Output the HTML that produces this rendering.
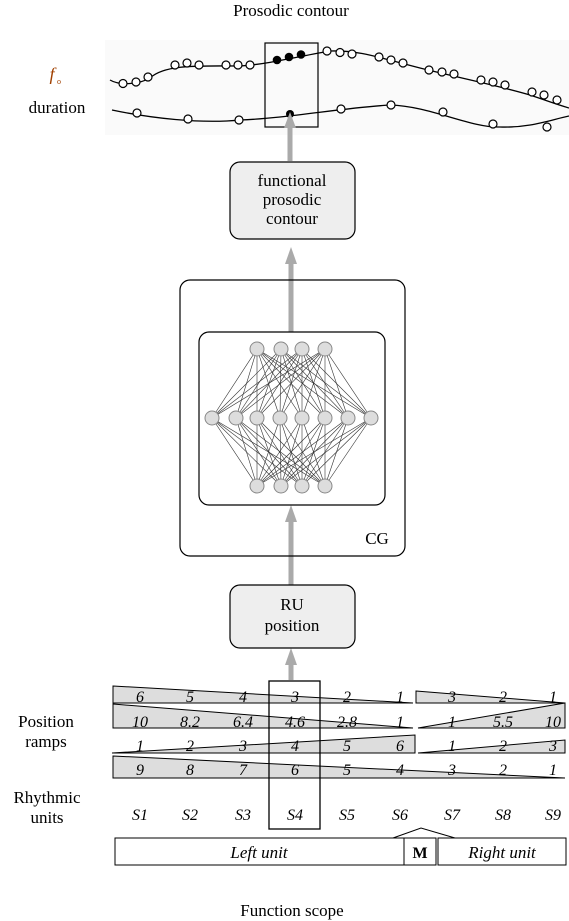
<!DOCTYPE html><html><head><style>body{margin:0;background:#fff}svg{display:block}text{font-family:"Liberation Serif",serif;fill:#000}</style></head><body>
<svg width="569" height="921" viewBox="0 0 569 921" xmlns="http://www.w3.org/2000/svg">
<text x="291" y="16" font-size="17" text-anchor="middle">Prosodic contour</text>
<text x="52" y="80" font-size="18" font-style="italic" text-anchor="middle" style="fill:#a04000">f</text><text x="57" y="84" font-size="8" style="fill:#a04000">o</text>
<text x="57" y="113" font-size="17" text-anchor="middle">duration</text>
<rect x="105" y="40" width="464" height="95" fill="#fafafa"/>
<path d="M110,80 C120,86 140,84 150,78 C165,64 200,66 240,66 C270,64 300,56 330,51 C360,50 380,58 420,68 C460,78 500,86 530,95 C545,100 555,104 569,108" fill="none" stroke="#000" stroke-width="1.3"/>
<path d="M112,110 C150,118 200,124 240,120 C290,118 340,108 390,105 C430,106 470,128 500,127 C530,128 550,120 569,116" fill="none" stroke="#000" stroke-width="1.3"/>
<g fill="#fff" stroke="#000" stroke-width="1.2">
<circle cx="123" cy="83.5" r="4"/><circle cx="136" cy="82" r="4"/><circle cx="148" cy="77" r="4"/><circle cx="175" cy="65" r="4"/><circle cx="187" cy="63" r="4"/><circle cx="199" cy="65" r="4"/><circle cx="226" cy="65" r="4"/><circle cx="238" cy="65" r="4"/><circle cx="250" cy="65" r="4"/><circle cx="327" cy="51" r="4"/><circle cx="340" cy="52.5" r="4"/><circle cx="352" cy="54" r="4"/><circle cx="379" cy="57" r="4"/><circle cx="391" cy="60" r="4"/><circle cx="403" cy="63" r="4"/><circle cx="429" cy="70" r="4"/><circle cx="442" cy="72" r="4"/><circle cx="454" cy="74" r="4"/><circle cx="481" cy="80" r="4"/><circle cx="493" cy="82" r="4"/><circle cx="505" cy="85" r="4"/><circle cx="532" cy="92" r="4"/><circle cx="544" cy="95" r="4"/><circle cx="557" cy="100" r="4"/>
<circle cx="137" cy="113" r="4"/><circle cx="188" cy="119" r="4"/><circle cx="239" cy="120" r="4"/><circle cx="341" cy="109" r="4"/><circle cx="391" cy="105" r="4"/><circle cx="443" cy="112" r="4"/><circle cx="493" cy="124" r="4"/><circle cx="547" cy="127" r="4"/>
</g>
<g fill="#000"><circle cx="277" cy="60" r="4.3"/><circle cx="289" cy="57" r="4.3"/><circle cx="301" cy="54.5" r="4.3"/><circle cx="290" cy="114" r="4"/></g>
<rect x="265" y="43" width="53" height="84" fill="none" stroke="#000" stroke-width="1.2"/>
<g stroke="#aaa" stroke-width="5" fill="none">
<line x1="290" y1="161" x2="290" y2="126"/><line x1="291" y1="332" x2="291" y2="262"/><line x1="291" y1="585" x2="291" y2="520"/><line x1="291" y1="680" x2="291" y2="663"/>
</g>
<g fill="#aaa"><path d="M284,128 L296,128 L290,112 z"/><path d="M285,264 L297,264 L291,247 z"/><path d="M285,522 L297,522 L291,505 z"/><path d="M285,665 L297,665 L291,648 z"/></g>
<rect x="230" y="162" width="125" height="77" rx="10" fill="#eee" stroke="#000" stroke-width="1.2"/>
<text x="292" y="186" font-size="17" text-anchor="middle">functional</text><text x="292" y="205" font-size="17" text-anchor="middle">prosodic</text><text x="292" y="224" font-size="17" text-anchor="middle">contour</text>
<rect x="180" y="280" width="225" height="276" rx="10" fill="none" stroke="#000" stroke-width="1.2"/>
<rect x="199" y="332" width="186" height="173" rx="10" fill="#fff" stroke="#000" stroke-width="1.2"/>
<text x="377" y="544" font-size="17" text-anchor="middle">CG</text>
<g stroke="#333" stroke-width="0.6" id="nn"></g>
<g id="nodes" fill="#ddd" stroke="#888" stroke-width="1"></g>
<script>
var T=[257,281,302,325],M=[212,236,257,280,302,325,348,371],ns="http://www.w3.org/2000/svg",g=document.getElementById('nn'),n=document.getElementById('nodes');
function L(a,b,c,d){var l=document.createElementNS(ns,'line');l.setAttribute('x1',a);l.setAttribute('y1',b);l.setAttribute('x2',c);l.setAttribute('y2',d);g.appendChild(l);}
function C(x,y){var c=document.createElementNS(ns,'circle');c.setAttribute('cx',x);c.setAttribute('cy',y);c.setAttribute('r',7);n.appendChild(c);}
T.forEach(function(t){M.forEach(function(m){L(t,349,m,418);L(t,486,m,418);});C(t,349);C(t,486);});M.forEach(function(m){C(m,418);});
</script>
<rect x="230" y="585" width="125" height="63" rx="10" fill="#eee" stroke="#000" stroke-width="1.2"/>
<text x="292" y="610" font-size="17" text-anchor="middle">RU</text><text x="292" y="631" font-size="17" text-anchor="middle">position</text>
<g fill="#ddd" stroke="#000" stroke-width="1">
<path d="M113,686 L413,703 L113,703 z"/><path d="M416,691 L565,703 L416,703 z"/>
<path d="M113,704 L413,728 L113,728 z"/><path d="M418,728 L565,703 L565,728 z"/>
<path d="M112,753 L415,735 L415,753 z"/><path d="M418,753 L565,740 L565,753 z"/>
<path d="M113,756 L565,778 L113,778 z"/>
</g>
<g font-size="16" font-style="italic" text-anchor="middle">
<text x="140" y="702">6</text><text x="190" y="702">5</text><text x="243" y="702">4</text><text x="295" y="702">3</text><text x="347" y="702">2</text><text x="400" y="702">1</text><text x="452" y="702">3</text><text x="503" y="702">2</text><text x="553" y="702">1</text>
<text x="140" y="727">10</text><text x="190" y="727">8.2</text><text x="243" y="727">6.4</text><text x="295" y="727">4.6</text><text x="347" y="727">2.8</text><text x="400" y="727">1</text><text x="452" y="727">1</text><text x="503" y="727">5.5</text><text x="553" y="727">10</text>
<text x="140" y="751">1</text><text x="190" y="751">2</text><text x="243" y="751">3</text><text x="295" y="751">4</text><text x="347" y="751">5</text><text x="400" y="751">6</text><text x="452" y="751">1</text><text x="503" y="751">2</text><text x="553" y="751">3</text>
<text x="140" y="775">9</text><text x="190" y="775">8</text><text x="243" y="775">7</text><text x="295" y="775">6</text><text x="347" y="775">5</text><text x="400" y="775">4</text><text x="452" y="775">3</text><text x="503" y="775">2</text><text x="553" y="775">1</text>
<text x="140" y="820">S1</text><text x="190" y="820">S2</text><text x="243" y="820">S3</text><text x="295" y="820">S4</text><text x="347" y="820">S5</text><text x="400" y="820">S6</text><text x="452" y="820">S7</text><text x="503" y="820">S8</text><text x="553" y="820">S9</text>
</g>
<text x="46" y="727" font-size="17" text-anchor="middle">Position</text><text x="46" y="747" font-size="17" text-anchor="middle">ramps</text>
<text x="47" y="803" font-size="17" text-anchor="middle">Rhythmic</text><text x="47" y="823" font-size="17" text-anchor="middle">units</text>
<rect x="269" y="681" width="51" height="148" fill="none" stroke="#000" stroke-width="1.3"/>
<path d="M393,838 L421,828 L455,838" fill="none" stroke="#000" stroke-width="1"/>
<rect x="115" y="838" width="289" height="27" fill="#fff" stroke="#000" stroke-width="1"/>
<rect x="404" y="838" width="32" height="27" fill="#fff" stroke="#000" stroke-width="1"/>
<rect x="438" y="838" width="128" height="27" fill="#fff" stroke="#000" stroke-width="1"/>
<text x="259" y="858" font-size="17" font-style="italic" text-anchor="middle">Left unit</text>
<text x="420" y="858" font-size="16" font-weight="bold" text-anchor="middle">M</text>
<text x="502" y="858" font-size="17" font-style="italic" text-anchor="middle">Right unit</text>
<text x="292" y="916" font-size="17" text-anchor="middle">Function scope</text>
</svg></body></html>
